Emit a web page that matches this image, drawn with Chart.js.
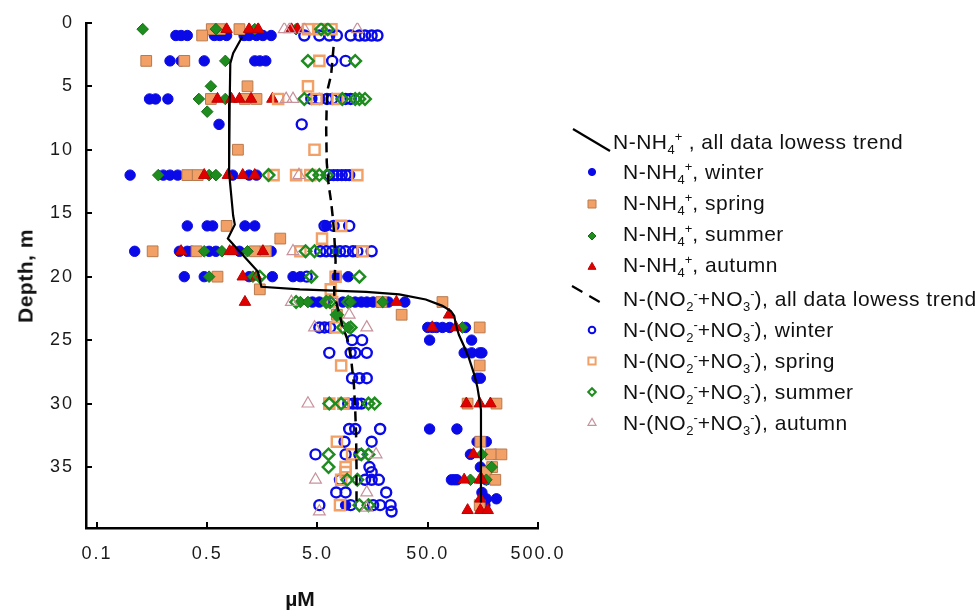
<!DOCTYPE html>
<html><head><meta charset="utf-8">
<script src="https://cdn.jsdelivr.net/npm/chart.js@4.4.0/dist/chart.umd.min.js"></script>
<style>
html,body{margin:0;padding:0;background:#fff;}
#wrap{position:relative;width:979px;height:611px;overflow:hidden;font-family:"Liberation Sans",Arial,sans-serif;color:#111;}
canvas{position:absolute;left:0;top:0;}
.title{position:absolute;font-weight:bold;font-size:21px;line-height:21px;white-space:nowrap;transform:translate(-50%,-50%);}
.ytitle{transform:translate(-50%,-50%) rotate(-90deg);letter-spacing:0.5px;}
.leg{position:absolute;font-size:21px;line-height:21px;white-space:nowrap;letter-spacing:0.5px;color:#111;}
.leg sub,.leg sup{font-size:13px;line-height:0;position:relative;vertical-align:baseline;letter-spacing:0;}
.leg sub{top:5px;}
.leg sup{top:-8px;}
</style></head>
<body><div id="wrap"><canvas id="c" width="979" height="611"></canvas>
<div class="title ytitle" style="left:25px;top:276px">Depth, m</div>
<div class="title" style="left:300px;top:598px">µM</div>
<div id="legend"></div>
</div>
<script>
// ---------- DATA (depth in m, concentration in µM) ----------
const xTickValues = [0.05, 0.5, 5, 50, 500];
const xTickLabels = ['0.1', '0.5', '5.0', '50.0', '500.0'];
const yTickValues = [0, 5, 10, 15, 20, 25, 30, 35];

const legendLabels = [
  'N-NH<sub>4</sub><sup>+</sup> , all data lowess trend',
  'N-NH<sub>4</sub><sup>+</sup>, winter',
  'N-NH<sub>4</sub><sup>+</sup>, spring',
  'N-NH<sub>4</sub><sup>+</sup>, summer',
  'N-NH<sub>4</sub><sup>+</sup>, autumn',
  'N-(NO<sub>2</sub><sup>-</sup>+NO<sub>3</sub><sup>-</sup>), all data lowess trend',
  'N-(NO<sub>2</sub><sup>-</sup>+NO<sub>3</sub><sup>-</sup>), winter',
  'N-(NO<sub>2</sub><sup>-</sup>+NO<sub>3</sub><sup>-</sup>), spring',
  'N-(NO<sub>2</sub><sup>-</sup>+NO<sub>3</sub><sup>-</sup>), summer',
  'N-(NO<sub>2</sub><sup>-</sup>+NO<sub>3</sub><sup>-</sup>), autumn'
];

// lowess trends: [depth, value]
const nh4Trend = [[1.1,1.04],[2.4,0.86],[3.2,0.81],[6.3,0.8],[11.8,0.79],[15.2,0.86],[15.9,0.89],[17.0,0.77],[18.0,0.98],[19.6,1.44],[20.8,1.55],[21.0,3.46],[21.1,6.9],[21.2,13.8],[21.4,27.6],[21.8,48],[22.3,68],[22.7,81],[23.1,87],[23.8,90],[24.6,96],[25.5,107],[26.5,119],[27.7,132],[28.7,141],[29.5,146],[30.5,152],[37.8,152]];
const no3Trend = [[1.9,7.0],[4.1,6.65],[5.2,6.2],[6.3,6.07],[8.4,6.0],[11.0,6.07],[12.7,6.3],[14.1,6.65],[15.4,6.9],[16.7,7.1],[18.8,7.3],[20.4,7.1],[21.4,7.1],[22.6,7.7],[24,8.5],[25,9.4],[26.5,10.1],[28.5,10.7],[30.5,11.0],[32.5,11.2],[35,11.3],[38,11.3]];

// measured points: [depth, [values...]]
const nh4Winter = [
  [1,[0.26,0.29,0.33,0.58,0.65,0.75,1.08,1.2,1.4,1.6,1.9]],
  [3,[0.23,0.29,0.47,1.35,1.5,1.7]],
  [6,[0.15,0.17,0.22]],
  [8,[0.64]],
  [12,[0.1,0.2,0.23,0.27,0.85,1.2,1.4]],
  [16,[0.33,0.5,0.56,1.1,1.35,6.0]],
  [18,[0.11,0.28,0.33,0.36,0.52,0.6,0.98,1.9]],
  [20,[0.31,0.47,1.2,1.95,3.0,3.5,7.5,9.5]],
  [22,[4.5,5.2,8.5,9.5,11,12.5,14,16,22,31]],
  [24,[50,55,60,68,79,110]],
  [25,[52,125]],
  [26,[107,125,148,155]],
  [28,[140,150]],
  [32,[52,92]],
  [33,[140,170]],
  [34,[122,205]],
  [35,[150]],
  [36,[82,87,92,170]],
  [37,[155]],
  [37.5,[170,210]],
  [38,[9,155,165]]
];
const nh4Spring = [
  [0.5,[0.55,0.65,0.98]],
  [1,[0.45]],
  [3,[0.14,0.31]],
  [5,[1.16]],
  [6,[0.54,1.1,1.4]],
  [10,[0.95]],
  [12,[0.33,0.41]],
  [16,[0.75]],
  [17,[2.3]],
  [18,[0.16,0.4,1.35,1.7]],
  [20,[0.62]],
  [21,[1.5]],
  [22,[19,68]],
  [23,[7.5,29]],
  [24,[148]],
  [27,[148]],
  [30,[115,210]],
  [33,[150]],
  [34,[187,233]],
  [35,[192]],
  [35.4,[170]],
  [36,[205]],
  [38,[148]]
];
const nh4Summer = [
  [0.5,[0.13,0.6,1.35,3.2]],
  [3,[0.73]],
  [5,[0.54]],
  [6,[0.42,0.73]],
  [7,[0.5]],
  [12,[0.18,0.52,0.6]],
  [18,[0.47,0.68,1.16,7.4]],
  [20,[0.52,1.3]],
  [22,[3.5,4.1,6,10,19.5]],
  [23,[7.5]],
  [24,[9.5,103]],
  [34,[155]],
  [35,[190]],
  [36,[122,170]]
];
const nh4Autumn = [
  [0.5,[0.75,1.2,1.45,2.9,3.3]],
  [6,[0.62,0.83,0.98,1.25,1.95]],
  [12,[0.47,0.77,1.05,1.35]],
  [18,[0.29,0.8,0.85,1.6]],
  [20,[1.05,1.4]],
  [22,[1.1,26]],
  [23,[78]],
  [24,[55,90]],
  [30,[112,148,185]],
  [34,[130]],
  [36,[107,148,155]],
  [37.5,[150]],
  [38.4,[115,150,175]]
];
const no3Winter = [
  [1,[3.8,5.2,6.4,7.5,10,12,13.5,15.5,17.5]],
  [3,[6.8,9]],
  [6,[4.4,5.2,6.1,6.8,9,10]],
  [8,[3.6]],
  [12,[6.4,7,7.6,8.3,9,9.7]],
  [16,[5.8,7,9.7]],
  [18,[5.3,6,6.8,8,9,10.5,11.5,15.5]],
  [20,[4.0]],
  [22,[7]],
  [24,[5.2,5.8,6.5]],
  [25,[10.3,12.7]],
  [26,[6.4,10,11,14]],
  [28,[10.3,12,14]],
  [30,[9.5,10.5,11.5,12.5]],
  [32,[9.7,11,18.5]],
  [33,[8.8,15.5]],
  [34,[4.8,9,12]],
  [35,[14.8]],
  [35.4,[15.5]],
  [36,[8,13.5,15.5,18]],
  [37,[7.4,9,21]],
  [38,[5.2,10,16,18.5,23]],
  [38.5,[23.5]]
];
const no3Spring = [
  [0.5,[4.1,5.2,6.7]],
  [3,[5.2]],
  [5,[4.1]],
  [6,[2.2,4.9,7.6]],
  [10,[4.7]],
  [12,[2.0,3.2,4.3,11.5]],
  [16,[8.2]],
  [17,[5.5]],
  [18,[3.5,12.8]],
  [20,[7.3]],
  [21,[6.6]],
  [22,[6.8]],
  [24,[7.3]],
  [27,[8.2]],
  [30,[6.4,8.6]],
  [33,[7.5]],
  [34,[10.3]],
  [35,[9]],
  [35.4,[9]],
  [36,[8.2]],
  [38,[8]]
];
const no3Summer = [
  [0.5,[5.4,6.2]],
  [3,[4.1,11]],
  [6,[3.8,8.4,11,12,13.5]],
  [12,[1.8,4.5,5.2,6.1]],
  [18,[3.9,4.7]],
  [20,[1.5,4.4,12]],
  [22,[3.2,6,6.5,9.5]],
  [23,[7.5]],
  [24,[8.5,10]],
  [30,[6.4,8.2,14.5,16.5]],
  [34,[6.3,12.5,14.5]],
  [35,[6.3]],
  [36,[9.3,11.5]],
  [38,[12,14.5]]
];
const no3Autumn = [
  [0.5,[2.5,2.8,3.8,11.5]],
  [6,[2.6,3.0]],
  [12,[3.4]],
  [18,[3.0]],
  [22,[2.9]],
  [23,[9.7]],
  [24,[4.7,14]],
  [30,[4.1]],
  [34,[17]],
  [36,[4.8]],
  [37,[14]],
  [38.2,[14]],
  [38.5,[5.2]]
];

// ---------- helpers ----------
const toPts = rows => rows.flatMap(([d, vals]) => vals.map(v => ({x: v, y: d})));
const trendPts = rows => rows.map(([d, v]) => ({x: v, y: d}));

const BLUE = '#0a0ae8', ORANGE = '#f2a066', ORANGE_D = '#b87a4e', GREEN = '#1e8c1e', GREEN_D = '#157015', RED = '#e00000', PINK = '#c8929c';

const styles = [
  {kind:'line', dash:[]},
  {kind:'circle', fill:BLUE, stroke:BLUE, lw:1, r:5.2, lr:3.6},
  {kind:'rect', fill:ORANGE, stroke:ORANGE_D, lw:1, r:7.6, lr:4},
  {kind:'rectRot', fill:GREEN, stroke:GREEN_D, lw:1, r:5.8, lr:4},
  {kind:'triangle', fill:RED, stroke:'#c00000', lw:1, r:6.6, lr:4.6},
  {kind:'line', dash:[12,8]},
  {kind:'circle', fill:'rgba(0,0,0,0)', stroke:BLUE, lw:2.4, r:5, lr:3.3},
  {kind:'rect', fill:'rgba(0,0,0,0)', stroke:ORANGE, lw:2.4, r:7.2, lr:3.6},
  {kind:'rectRot', fill:'rgba(0,0,0,0)', stroke:GREEN, lw:2.4, r:5.8, lr:3.8},
  {kind:'triangle', fill:'rgba(0,0,0,0)', stroke:PINK, lw:1.2, r:6.8, lr:4.6}
];

const pointSeries = [nh4Winter, nh4Spring, nh4Summer, nh4Autumn, no3Winter, no3Spring, no3Summer, no3Autumn];

const datasets = [
  {data: trendPts(nh4Trend), showLine:true, borderColor:'#000', borderWidth:2.2, pointRadius:0, fill:false, order:0},
  {data: trendPts(no3Trend), showLine:true, borderColor:'#000', borderWidth:2.5, borderDash:[10,6], pointRadius:0, fill:false, order:0}
];
const pointStyleIdx = [1,2,3,4,6,7,8,9];
pointSeries.forEach((rows, i) => {
  const s = styles[pointStyleIdx[i]];
  datasets.push({
    data: toPts(rows), showLine:false,
    pointStyle: s.kind, pointRadius: s.r, pointBackgroundColor: s.fill,
    pointBorderColor: s.stroke, pointBorderWidth: s.lw,
    order: 20 - i
  });
});

// ---------- plugins ----------
function drawShape(ctx, kind, x, y, r) {
  ctx.beginPath();
  if (kind === 'circle') ctx.arc(x, y, r, 0, Math.PI * 2);
  else if (kind === 'rect') ctx.rect(x - r, y - r, 2 * r, 2 * r);
  else if (kind === 'rectRot') { ctx.moveTo(x, y - r); ctx.lineTo(x + r, y); ctx.lineTo(x, y + r); ctx.lineTo(x - r, y); ctx.closePath(); }
  else if (kind === 'triangle') { ctx.moveTo(x, y - r); ctx.lineTo(x + r * 0.866, y + r * 0.5); ctx.lineTo(x - r * 0.866, y + r * 0.5); ctx.closePath(); }
}

const legendBaselines = [149, 179, 210, 241, 272, 306, 337, 368, 399, 430];
const legendMarkerY = [0, 172, 204, 236, 267, 0, 330, 361, 392, 423];

const spacingPlugin = {
  id: 'spacing',
  beforeDraw(chart) { chart.ctx.letterSpacing = '2px'; },
  beforeDatasetsDraw(chart) { chart.ctx.letterSpacing = '0px'; }
};

const decorPlugin = {
  id: 'decor',
  afterDraw(chart) {
    const ctx = chart.ctx, a = chart.chartArea, sx = chart.scales.x, sy = chart.scales.y;
    ctx.save();
    ctx.strokeStyle = '#000'; ctx.lineWidth = 2;
    sx.ticks.forEach(t => { const p = Math.round(sx.getPixelForValue(t.value)); ctx.beginPath(); ctx.moveTo(p, a.bottom); ctx.lineTo(p, a.bottom - 6); ctx.stroke(); });
    sy.ticks.forEach(t => { const p = Math.round(sy.getPixelForValue(t.value)); ctx.beginPath(); ctx.moveTo(a.left, p); ctx.lineTo(a.left + 6, p); ctx.stroke(); });
    // legend icons
    styles.forEach((s, i) => {
      if (s.kind === 'line') {
        ctx.setLineDash(s.dash); ctx.lineWidth = 2.2; ctx.strokeStyle = '#000';
        ctx.beginPath();
        if (i === 0) { ctx.moveTo(573, 129); ctx.lineTo(610, 151); }
        else { ctx.moveTo(572, 286); ctx.lineTo(603, 304); }
        ctx.stroke(); ctx.setLineDash([]);
      } else {
        drawShape(ctx, s.kind, 592, legendMarkerY[i], s.lr);
        ctx.fillStyle = s.fill; ctx.fill();
        ctx.lineWidth = Math.min(s.lw, 2); ctx.strokeStyle = s.stroke; ctx.stroke();
      }
    });
    ctx.restore();
  }
};

// ---------- HTML legend text ----------
const leg = document.getElementById('legend');
legendLabels.forEach((html, i) => {
  const d = document.createElement('div');
  d.className = 'leg';
  d.style.left = (i === 0 ? 613 : 623) + 'px';
  d.style.top = (legendBaselines[i] - 17.8) + 'px';
  d.innerHTML = html;
  leg.appendChild(d);
});

// ---------- chart ----------
const tickFont = {family: '"Liberation Sans", Arial, sans-serif', size: 18};
new Chart(document.getElementById('c'), {
  type: 'scatter',
  data: {datasets},
  options: {
    responsive: false, devicePixelRatio: 1, animation: false, events: [],
    layout: {padding: {left: 0, right: 441, top: 19, bottom: 0}},
    plugins: {legend: {display: false}, tooltip: {enabled: false}},
    scales: {
      x: {
        type: 'logarithmic', min: 0.0398, max: 500, position: 'bottom',
        afterBuildTicks: s => { s.ticks = xTickValues.map(v => ({value: v})); },
        afterFit: s => { s.height = 83; },
        ticks: {callback: (v, i) => xTickLabels[i], font: tickFont, color: '#1a1a1a', padding: 15, maxRotation: 0, autoSkip: false},
        grid: {display: false, drawTicks: false},
        border: {display: true, color: '#000', width: 2.5}
      },
      y: {
        type: 'linear', reverse: true, min: 0, max: 39.8,
        afterBuildTicks: s => { s.ticks = yTickValues.map(v => ({value: v})); },
        afterFit: s => { s.width = 86; },
        ticks: {callback: v => String(v), font: tickFont, color: '#1a1a1a', padding: 12, autoSkip: false},
        grid: {display: false, drawTicks: false},
        border: {display: true, color: '#000', width: 2.5}
      }
    }
  },
  plugins: [spacingPlugin, decorPlugin]
});
</script>
</body></html>
